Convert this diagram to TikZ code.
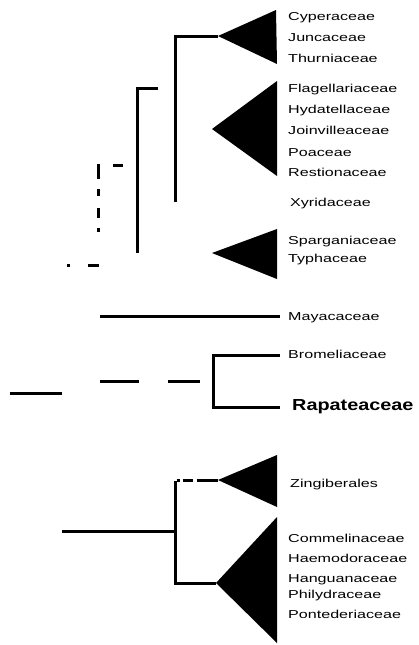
\documentclass[tikz,border=0pt]{standalone}
\usepackage{fontspec}
\newfontfamily\labfont[FakeStretch=1.4]{Liberation Sans}
\newfontfamily\biglabfont[FakeStretch=1.24]{Liberation Sans}
\tikzset{
  branch/.style={line width=3pt},
  clade/.style={fill=black},
  lab/.style={anchor=west, inner sep=0pt, text height=8pt, text depth=0pt,
    font={\labfont\fontsize{11.5}{13}\selectfont}},
  bigl/.style={anchor=west, inner sep=0pt, text height=12pt, text depth=0pt,
    font={\biglabfont\bfseries\fontsize{16}{18}\selectfont}},
}
\begin{document}
\begin{tikzpicture}[x=1pt,y=-1pt]
\useasboundingbox[fill=white] (0,0) rectangle (418,645);
% clade triangles
\coordinate (t1a) at (218,36);  \coordinate (t1u) at (276,10);  \coordinate (t1d) at (277,64);
\coordinate (t2a) at (212,129); \coordinate (t2u) at (277,81);  \coordinate (t2d) at (277,176);
\coordinate (t3a) at (212,253); \coordinate (t3u) at (277,229); \coordinate (t3d) at (277,279);
\coordinate (t4a) at (218,480); \coordinate (t4u) at (277,455); \coordinate (t4d) at (277,507);
\coordinate (t5a) at (216,583); \coordinate (t5u) at (277,517); \coordinate (t5d) at (277,643);
\fill[clade] (t1a) -- (t1u) -- (t1d) -- cycle;
\fill[clade] (t2a) -- (t2u) -- (t2d) -- cycle;
\fill[clade] (t3a) -- (t3u) -- (t3d) -- cycle;
\fill[clade] (t4a) -- (t4u) -- (t4d) -- cycle;
\fill[clade] (t5a) -- (t5u) -- (t5d) -- cycle;
% labels
\node[lab] (cyp) at (288,16) {Cyperaceae};
\node[lab] (jun) at (288,37) {Juncaceae};
\node[lab] (thu) at (288,58) {Thurniaceae};
\node[lab] (fla) at (288,88) {Flagellariaceae};
\node[lab] (hyd) at (288,109) {Hydatellaceae};
\node[lab] (joi) at (288,130) {Joinvilleaceae};
\node[lab] (poa) at (288,152) {Poaceae};
\node[lab] (res) at (288,172) {Restionaceae};
\node[lab] (xyr) at (290,202) {Xyridaceae};
\node[lab] (spa) at (288,240) {Sparganiaceae};
\node[lab] (typ) at (288,258) {Typhaceae};
\node[lab] (may) at (288,316) {Mayacaceae};
\node[lab] (bro) at (288,354) {Bromeliaceae};
\node[bigl] (rap) at (292,404) {Rapateaceae};
\node[lab] (zin) at (290,483) {Zingiberales};
\node[lab] (com) at (288,538) {Commelinaceae};
\node[lab] (hae) at (288,558) {Haemodoraceae};
\node[lab] (han) at (288,578) {Hanguanaceae};
\node[lab] (phi) at (288,594) {Philydraceae};
\node[lab] (pon) at (288,614) {Pontederiaceae};
% branch points
\coordinate (v1b) at (175,202); \coordinate (v1t) at (175,36);
\coordinate (h2r) at (158,88);  \coordinate (v2t) at (137,88); \coordinate (v2b) at (137,253);
\coordinate (d1l) at (113,165); \coordinate (d1r) at (123,165);
\coordinate (dvt) at (98,164);  \coordinate (dvb) at (98,232);
\coordinate (p1l) at (67,265);  \coordinate (p1r) at (70,265);
\coordinate (p2l) at (88,265);  \coordinate (p2r) at (99,265);
\coordinate (mayl) at (100,316); \coordinate (mayr) at (280,316);
\coordinate (dsl) at (100,381);  \coordinate (dsr) at (200,381);
\coordinate (bu) at (280,355); \coordinate (but) at (213,355);
\coordinate (bdt) at (213,407); \coordinate (bd) at (280,407);
\coordinate (ll) at (10,393); \coordinate (lr) at (62,393);
\coordinate (rootl) at (62,531); \coordinate (rootr) at (175,531);
\coordinate (cvt) at (175,481); \coordinate (cvb) at (175,583);
\coordinate (cht) at (176.5,480);
% branches
\draw[branch] (v1b) -- (v1t) -- (t1a);
\draw[branch] (h2r) -- (v2t) -- (v2b);
\draw[branch] (d1l) -- (d1r);
\draw[branch, dash pattern=on 15pt off 10pt on 7pt off 12pt on 10pt off 10pt on 4pt] (dvt) -- (dvb);
\draw[branch] (p1l) -- (p1r);
\draw[branch] (p2l) -- (p2r);
\draw[branch] (mayl) -- (mayr);
\draw[branch, dash pattern=on 39pt off 29pt on 32pt] (dsl) -- (dsr);
\draw[branch] (bu) -- (but) -- (bdt) -- (bd);
\draw[branch] (ll) -- (lr);
\draw[branch] (rootl) -- (rootr);
\draw[branch] (cvt) -- (cvb) -- (t5a);
\draw[branch, dash pattern=on 3pt off 3pt on 10pt off 4pt on 40pt] (cht) -- (t4a);
\end{tikzpicture}
\end{document}
